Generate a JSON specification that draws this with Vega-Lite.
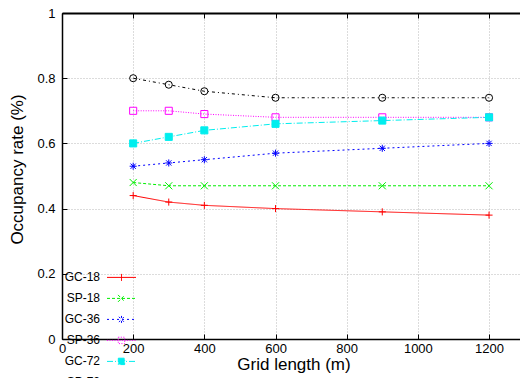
{
  "$schema": "https://vega.github.io/schema/vega-lite/v6.json",
  "width": 458,
  "height": 326,
  "autosize": {"type": "none"},
  "padding": {"left": 62, "top": 13, "right": 0, "bottom": 39},
  "background": "white",
  "config": {
    "view": {"stroke": null},
    "font": "Liberation Sans",
    "axis": {
      "domainColor": "black",
      "domainWidth": 1.5,
      "tickColor": "black",
      "tickSize": -5,
      "tickWidth": 1,
      "labelFont": "Liberation Sans",
      "labelFontSize": 13,
      "labelColor": "black",
      "titleFont": "Liberation Sans",
      "titleFontSize": 17,
      "titleFontWeight": "normal",
      "titleColor": "black",
      "grid": true,
      "gridColor": "#b8b8b8",
      "gridDash": [1, 2],
      "gridWidth": 1,
      "labelOverlap": false,
      "labelFlush": false
    }
  },
  "data": {
    "values": [
      {"series": "GC-18", "x": 200, "y": 0.44},
      {"series": "GC-18", "x": 300, "y": 0.42},
      {"series": "GC-18", "x": 400, "y": 0.41},
      {"series": "GC-18", "x": 600, "y": 0.40},
      {"series": "GC-18", "x": 900, "y": 0.39},
      {"series": "GC-18", "x": 1200, "y": 0.38},
      {"series": "SP-18", "x": 200, "y": 0.48},
      {"series": "SP-18", "x": 300, "y": 0.47},
      {"series": "SP-18", "x": 400, "y": 0.47},
      {"series": "SP-18", "x": 600, "y": 0.47},
      {"series": "SP-18", "x": 900, "y": 0.47},
      {"series": "SP-18", "x": 1200, "y": 0.47},
      {"series": "GC-36", "x": 200, "y": 0.53},
      {"series": "GC-36", "x": 300, "y": 0.54},
      {"series": "GC-36", "x": 400, "y": 0.55},
      {"series": "GC-36", "x": 600, "y": 0.57},
      {"series": "GC-36", "x": 900, "y": 0.585},
      {"series": "GC-36", "x": 1200, "y": 0.60},
      {"series": "SP-36", "x": 200, "y": 0.70},
      {"series": "SP-36", "x": 300, "y": 0.70},
      {"series": "SP-36", "x": 400, "y": 0.69},
      {"series": "SP-36", "x": 600, "y": 0.68},
      {"series": "SP-36", "x": 900, "y": 0.68},
      {"series": "SP-36", "x": 1200, "y": 0.68},
      {"series": "GC-72", "x": 200, "y": 0.60},
      {"series": "GC-72", "x": 300, "y": 0.62},
      {"series": "GC-72", "x": 400, "y": 0.64},
      {"series": "GC-72", "x": 600, "y": 0.66},
      {"series": "GC-72", "x": 900, "y": 0.67},
      {"series": "GC-72", "x": 1200, "y": 0.68},
      {"series": "SP-72", "x": 200, "y": 0.80},
      {"series": "SP-72", "x": 300, "y": 0.78},
      {"series": "SP-72", "x": 400, "y": 0.76},
      {"series": "SP-72", "x": 600, "y": 0.74},
      {"series": "SP-72", "x": 900, "y": 0.74},
      {"series": "SP-72", "x": 1200, "y": 0.74}
    ]
  },
  "encoding": {
    "x": {
      "field": "x",
      "type": "quantitative",
      "scale": {"domain": [0, 1287], "nice": false},
      "axis": {
        "values": [0, 200, 400, 600, 800, 1000, 1200],
        "format": "d",
        "labelPadding": 8.3,
        "title": "Grid length (m)",
        "titleBaseline": "alphabetic",
        "titleY": 30,
        "titleX": 231.5
      }
    },
    "y": {
      "field": "y",
      "type": "quantitative",
      "scale": {"domain": [0, 1], "nice": false},
      "axis": {
        "values": [0, 0.2, 0.4, 0.6, 0.8, 1],
        "format": "~g",
        "labelPadding": 12,
        "title": "Occupancy rate (%)",
        "titleBaseline": "alphabetic",
        "titleX": -39.5,
        "titleY": 156
      }
    }
  },
  "layer": [
    {
      "mark": {"type": "line", "strokeWidth": 1},
      "encoding": {
        "stroke": {
          "field": "series",
          "type": "nominal",
          "scale": {
            "domain": ["GC-18", "SP-18", "GC-36", "SP-36", "GC-72", "SP-72"],
            "range": ["#ff0000", "#00ee00", "#0000ff", "#ff00ff", "#00eeee", "#000000"]
          },
          "legend": {
            "title": null,
            "orient": "none",
            "legendX": 44.5,
            "legendY": 249.4,
            "symbolType": "stroke",
            "symbolSize": 841,
            "symbolStrokeWidth": 1,
            "labelAlign": "right",
            "labelOffset": -36.5,
            "labelFont": "Liberation Sans",
            "labelFontSize": 12,
            "labelColor": "black",
            "rowPadding": -35,
            "padding": 0,
            "encode": {
              "symbols": {
                "update": {
                  "shape": {"signal": "datum.value === 'GC-18' ? 'M-1,0H1M0,-0.24V0.24' : datum.value === 'SP-18' ? 'M-1,0H1M-0.24,-0.24L0.24,0.24M-0.24,0.24L0.24,-0.24' : datum.value === 'GC-36' ? 'M-1,0H1M0,-0.24V0.24M-0.18,-0.18L0.18,0.18M-0.18,0.18L0.18,-0.18' : datum.value === 'SP-72' ? 'M-1,0H1M-0.2,0A0.2,0.2 0 1,0 0.2,0A0.2,0.2 0 1,0 -0.2,0' : 'M-1,0H1M-0.22,-0.22H0.22V0.22H-0.22Z'"},
                  "fill": {"signal": "datum.value === 'GC-72' ? '#00eeee' : 'transparent'"},
                  "opacity": {"value": 1}
                }
              }
            }
          }
        },
        "strokeDash": {
          "field": "series",
          "type": "nominal",
          "scale": {
            "domain": ["GC-18", "SP-18", "GC-36", "SP-36", "GC-72", "SP-72"],
            "range": [[1, 0], [3, 2], [2, 3], [1, 1.5], [6, 2, 1, 2], [3, 3, 1, 3]]
          },
          "legend": {
            "title": null,
            "orient": "none",
            "legendX": 44.5,
            "legendY": 249.4,
            "symbolType": "stroke",
            "symbolSize": 841,
            "symbolStrokeWidth": 1,
            "labelAlign": "right",
            "labelOffset": -36.5,
            "labelFont": "Liberation Sans",
            "labelFontSize": 12,
            "labelColor": "black",
            "rowPadding": -35,
            "padding": 0
          }
        }
      }
    },
    {
      "mark": {"type": "point", "filled": false, "size": 50, "strokeWidth": 1, "opacity": 1},
      "encoding": {
        "x": {"field": "x", "type": "quantitative", "axis": null},
        "stroke": {
          "field": "series",
          "type": "nominal",
          "scale": {
            "domain": ["GC-18", "SP-18", "GC-36", "SP-36", "GC-72", "SP-72"],
            "range": ["#ff0000", "#00ee00", "#0000ff", "#ff00ff", "#00eeee", "#000000"]
          },
          "legend": null
        },
        "fill": {
          "field": "series",
          "type": "nominal",
          "scale": {
            "domain": ["SP-72", "GC-72", "SP-36", "GC-36", "SP-18", "GC-18"],
            "range": ["transparent", "#00eeee", "transparent", "transparent", "transparent", "transparent"]
          },
          "legend": null
        },
        "shape": {
          "field": "series",
          "type": "nominal",
          "scale": {
            "domain": ["SP-72", "GC-72", "SP-36", "GC-36", "SP-18", "GC-18"],
            "range": [
              "circle",
              "square",
              "square",
              "M-1,0H1M0,-1V1M-0.75,-0.75L0.75,0.75M-0.75,0.75L0.75,-0.75",
              "M-1,-1L1,1M-1,1L1,-1",
              "M-1,0H1M0,-1V1"
            ]
          },
          "legend": null
        }
      }
    },
    {
      "mark": {"type": "point", "opacity": 0},
      "encoding": {
        "x": {
          "field": "x",
          "type": "quantitative",
          "axis": {
            "orient": "top",
            "values": [0, 200, 400, 600, 800, 1000, 1200],
            "labels": false,
            "grid": false,
            "title": null,
            "domainWidth": 2
          }
        }
      }
    }
  ],
  "resolve": {"axis": {"x": "independent"}}
}
